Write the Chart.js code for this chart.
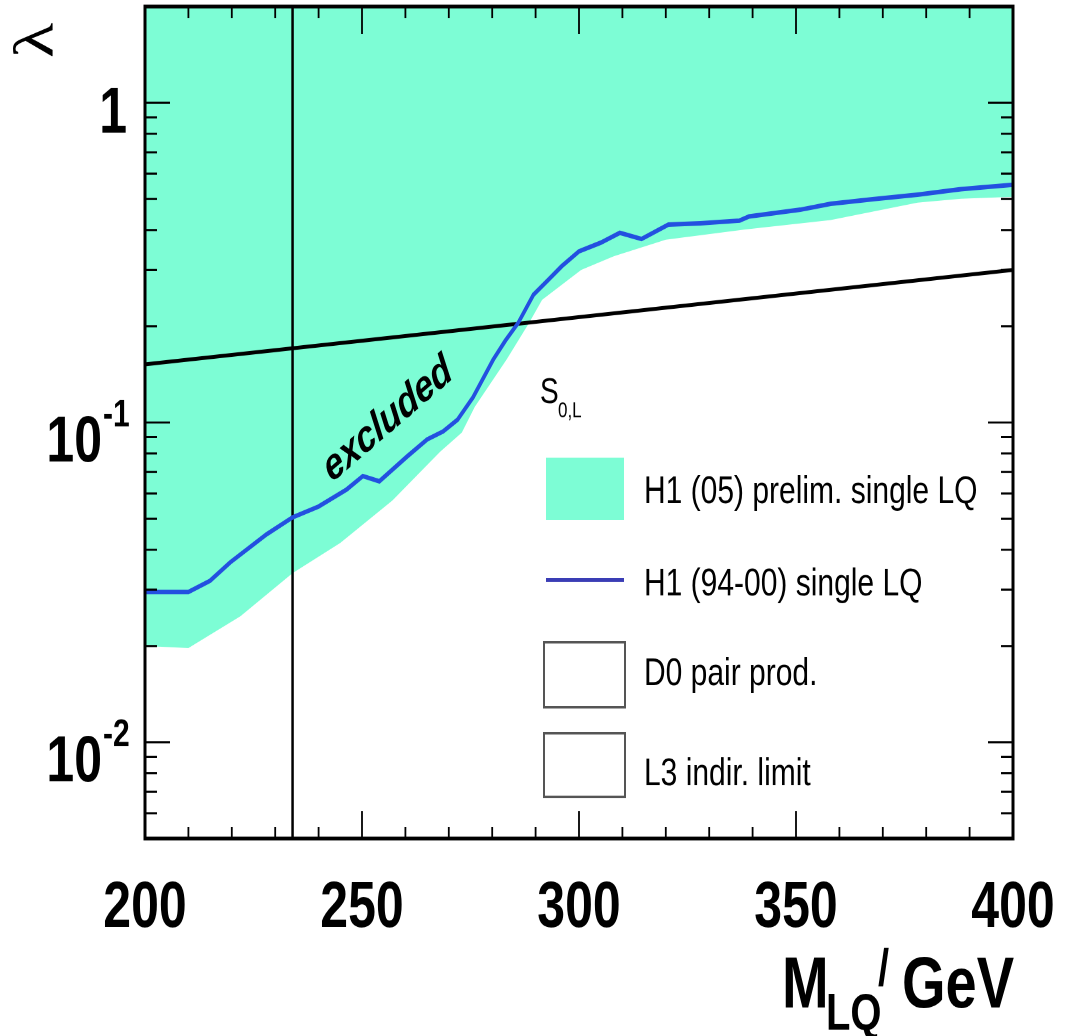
<!DOCTYPE html>
<html>
<head>
<meta charset="utf-8">
<script src="https://cdn.jsdelivr.net/npm/chart.js@4/dist/chart.umd.min.js"></script>
<style>
  html, body { margin: 0; padding: 0; background: #fff; overflow: hidden; }
  #page { width: 1072px; height: 1036px; position: relative; }
  /* the original figure is stretched vertically, so draw flat and stretch */
  #wrap { position: absolute; left: 0; top: 0; width: 1072px; height: 797px; transform: scaleY(1.3); transform-origin: 0 0; }
</style>
</head>
<body>
<div id="page"><div id="wrap"><canvas id="c" width="1072" height="797"></canvas></div></div>
<script>
// ---- data ----
// H1 (05) preliminary single LQ: lower edge of the excluded band
const h1Mass05 = [200, 210, 222, 234, 245, 257, 268, 273, 276, 283.4, 288.5, 291.5, 300.5, 308, 320, 338, 358, 378, 388, 400];
const h1Lambda05 = [0.0200, 0.0197, 0.0248, 0.0338, 0.042, 0.057, 0.081, 0.093, 0.112, 0.158, 0.205, 0.242, 0.300, 0.331, 0.373, 0.401, 0.430, 0.487, 0.501, 0.508];

// H1 (94-00) single LQ
const h1Mass9400 = [200, 210, 215, 219.6, 228, 234, 240, 246.5, 250.2, 254, 260.4, 265, 268.7, 272, 275.6, 280.2, 283, 286, 289.5, 293, 296, 300, 305, 309.4, 314.4, 320.6, 328, 337, 339.2, 351, 358, 368, 378, 388, 400];
const h1Lambda9400 = [0.0295, 0.0295, 0.032, 0.0365, 0.0447, 0.0505, 0.0546, 0.0618, 0.068, 0.0655, 0.0783, 0.0885, 0.0938, 0.102, 0.12, 0.157, 0.18, 0.205, 0.251, 0.28, 0.308, 0.343, 0.365, 0.392, 0.375, 0.416, 0.42, 0.428, 0.441, 0.463, 0.483, 0.50, 0.516, 0.537, 0.554];

// L3 indirect limit
const l3Mass = [200, 400];
const l3Lambda = [0.152, 0.30];

// D0 pair production
const d0Mass = [234, 234];
const d0Lambda = [0.005, 2];

const xMajor = [200, 250, 300, 350, 400];
const xLabels = ['200', '250', '300', '350', '400'];
const yMajor = [0.01, 0.1, 1];
const yLabels = ['10', '10', '1'];
const ySup = ['-2', '-1', ''];

const legendItems = ['H1 (05) prelim. single LQ', 'H1 (94-00) single LQ', 'D0 pair prod.', 'L3 indir. limit'];

const CYAN = '#7dfdd5';
const BLUE = '#2350e0';
const SANS = '"Liberation Sans", Arial, Helvetica, sans-serif';

const pts = (xs, ys) => xs.map((x, i) => ({ x, y: ys[i] }));

// ---- frame, ticks, labels, legend ----
const decor = {
  id: 'decor',
  afterDraw(chart) {
    const ctx = chart.ctx;
    const { left, right, top, bottom } = chart.chartArea;
    const xs = chart.scales.x, ys = chart.scales.y;
    ctx.save();
    ctx.strokeStyle = '#000';
    ctx.fillStyle = '#000';

    // ticks on all four sides, inward
    ctx.lineWidth = 1.8;
    for (let m = 200; m <= 400; m += 10) {
      const px = xs.getPixelForValue(m);
      const len = (m % 50 === 0) ? 21 : 9;
      ctx.beginPath();
      ctx.moveTo(px, bottom); ctx.lineTo(px, bottom - len);
      ctx.moveTo(px, top); ctx.lineTo(px, top + len);
      ctx.stroke();
    }
    ctx.lineWidth = 1.6;
    [0.001, 0.01, 0.1, 1].forEach(d => {
      for (let k = 1; k <= 9; k++) {
        const v = k * d;
        if (v < ys.min * 0.999 || v > ys.max * 1.001) continue;
        const py = ys.getPixelForValue(v);
        const len = k === 1 ? 25 : 12;
        ctx.beginPath();
        ctx.moveTo(left, py); ctx.lineTo(left + len, py);
        ctx.moveTo(right, py); ctx.lineTo(right - len, py);
        ctx.stroke();
      }
    });

    // frame
    ctx.lineWidth = 3;
    ctx.strokeRect(left, top, right - left, bottom - top);

    // x tick labels
    ctx.font = 'bold 50px ' + SANS;
    ctx.textAlign = 'center';
    ctx.textBaseline = 'alphabetic';
    xMajor.forEach((v, i) => ctx.fillText(xLabels[i], xs.getPixelForValue(v), 713));

    // y tick labels
    yMajor.forEach((v, i) => {
      const py = ys.getPixelForValue(v);
      if (ySup[i]) {
        ctx.font = 'bold 50px ' + SANS;
        ctx.textAlign = 'right';
        ctx.fillText(yLabels[i], 102, py + 30);
        ctx.font = 'bold 30px ' + SANS;
        ctx.textAlign = 'left';
        ctx.fillText(ySup[i], 103, py + 3);
      } else {
        ctx.font = 'bold 50px ' + SANS;
        ctx.textAlign = 'right';
        ctx.fillText(yLabels[i], 127, py + 23);
      }
    });

    // y title (lambda, rotated)
    ctx.save();
    ctx.translate(38, 31);
    ctx.rotate(-Math.PI / 2);
    ctx.font = '56px "Liberation Serif", "DejaVu Serif", serif';
    ctx.textAlign = 'center';
    ctx.textBaseline = 'middle';
    ctx.fillText('λ', 0, 0);
    ctx.restore();

    // x title
    ctx.textAlign = 'left';
    ctx.font = 'bold 56px ' + SANS;
    ctx.fillText('M', 782, 775);
    ctx.font = 'bold 40px ' + SANS;
    ctx.fillText('LQ', 826, 792);
    ctx.fillText('/', 878, 758);
    ctx.font = 'bold 56px ' + SANS;
    ctx.fillText('GeV', 902, 775);

    // "excluded"
    ctx.save();
    ctx.translate(388, 323);
    ctx.rotate(-33.5 * Math.PI / 180);
    ctx.font = 'italic bold 34px ' + SANS;
    ctx.textAlign = 'center';
    ctx.textBaseline = 'middle';
    ctx.fillText('excluded', 0, 0);
    ctx.restore();

    // legend header S_{0,L}
    ctx.textAlign = 'left';
    ctx.font = '28px ' + SANS;
    ctx.fillText('S', 540, 310);
    ctx.font = '17px ' + SANS;
    ctx.fillText('0,L', 558, 321);

    // legend entries
    ctx.fillStyle = CYAN;
    ctx.fillRect(546, 352, 78, 48);
    ctx.strokeStyle = '#3a3db5';
    ctx.lineWidth = 3;
    ctx.beginPath(); ctx.moveTo(546, 446); ctx.lineTo(624, 446); ctx.stroke();
    ctx.strokeStyle = '#555';
    ctx.lineWidth = 2;
    ctx.strokeRect(544, 494, 81, 50);
    ctx.strokeRect(544, 564, 81, 49);

    ctx.fillStyle = '#000';
    ctx.font = '30px ' + SANS;
    const base = [387, 458, 527, 604];
    legendItems.forEach((t, i) => ctx.fillText(t, 644, base[i]));

    ctx.restore();
  }
};

new Chart(document.getElementById('c'), {
  type: 'line',
  data: {
    datasets: [
      { label: legendItems[1], data: pts(h1Mass9400, h1Lambda9400), borderColor: BLUE, borderWidth: 3.5, pointRadius: 0, fill: false, order: 0 },
      { label: legendItems[3], data: pts(l3Mass, l3Lambda), borderColor: '#000', borderWidth: 3, pointRadius: 0, fill: false, order: 1 },
      { label: legendItems[2], data: pts(d0Mass, d0Lambda), borderColor: '#000', borderWidth: 2.5, pointRadius: 0, fill: false, order: 1 },
      { label: legendItems[0], data: pts(h1Mass05, h1Lambda05), borderColor: 'rgba(0,0,0,0)', borderWidth: 0, backgroundColor: CYAN, pointRadius: 0, fill: 'end', order: 2 }
    ]
  },
  options: {
    responsive: false,
    devicePixelRatio: 2,
    animation: false,
    layout: { padding: { left: 145, right: 59, top: 5, bottom: 152 } },
    elements: { line: { tension: 0 } },
    scales: {
      x: { type: 'linear', min: 200, max: 400, display: false },
      y: { type: 'logarithmic', min: 0.005, max: 2, display: false }
    },
    plugins: { legend: { display: false }, tooltip: { enabled: false } }
  },
  plugins: [decor]
});
</script>
</body>
</html>
